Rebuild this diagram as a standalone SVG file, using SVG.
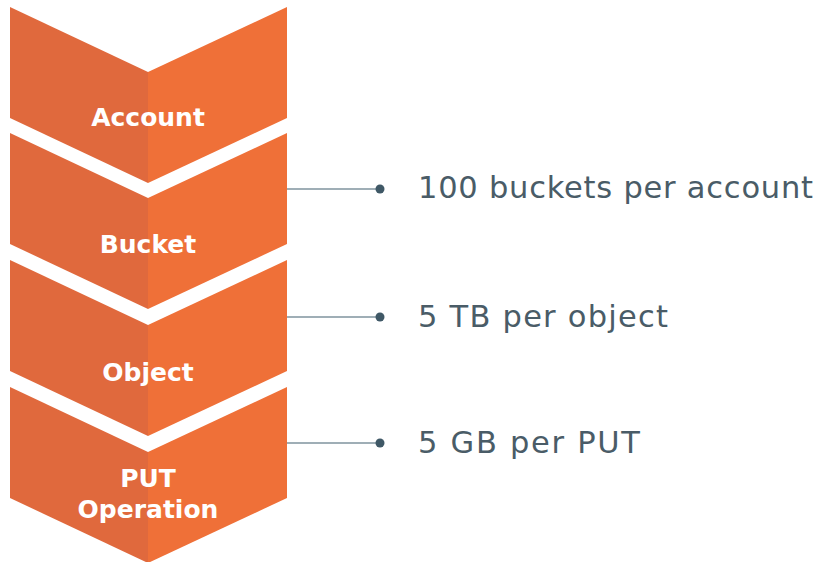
<svg xmlns="http://www.w3.org/2000/svg" width="821" height="562" viewBox="0 0 821 562">
  <style>
    .lf { fill: #E0693D; }
    .rt { fill: #EF7038; }
    .lbl { font-family: "DejaVu Sans", "Liberation Sans", sans-serif; font-weight: bold; font-size: 25px; fill: #FFFFFF; text-anchor: middle; }
    .note { font-family: "DejaVu Sans", "Liberation Sans", sans-serif; font-size: 30.5px; fill: #4A5C67; }
    .lead { stroke: #7F939E; stroke-width: 1.5; fill: none; }
    .dot { fill: #3F5866; }
  </style>
  <defs>
    <!-- one chevron: darker left half, lighter right half -->
    <g id="chev">
      <polygon class="lf" points="10,0 148,65 148,176 10,111"/>
      <polygon class="rt" points="148,65 287,0 287,111 148,176"/>
    </g>
  </defs>

  <rect width="821" height="562" fill="#FFFFFF"/>

  <g id="account">
    <use href="#chev" transform="translate(0,7)"/>
    <text class="lbl" x="148" y="126">Account</text>
  </g>
  <g id="bucket">
    <use href="#chev" transform="translate(0,133)"/>
    <text class="lbl" x="148" y="253">Bucket</text>
  </g>
  <g id="object">
    <use href="#chev" transform="translate(0,260)"/>
    <text class="lbl" x="148" y="381">Object</text>
  </g>
  <g id="put-operation">
    <use href="#chev" transform="translate(0,387)"/>
    <text class="lbl" x="148" y="487">PUT</text>
    <text class="lbl" x="148" y="518">Operation</text>
  </g>

  <g id="connectors">
    <line class="lead" x1="287" y1="189" x2="380" y2="189"/>
    <circle class="dot" cx="380" cy="189" r="4.5"/>
    <line class="lead" x1="287" y1="317" x2="380" y2="317"/>
    <circle class="dot" cx="380" cy="317" r="4.5"/>
    <line class="lead" x1="287" y1="443" x2="380" y2="443"/>
    <circle class="dot" cx="380" cy="443" r="4.5"/>
  </g>

  <g id="limits">
    <text class="note" x="418" y="198" textLength="395" lengthAdjust="spacing">100 buckets per account</text>
    <text class="note" x="418" y="327" textLength="250" lengthAdjust="spacing">5 TB per object</text>
    <text class="note" x="418" y="453" textLength="222" lengthAdjust="spacing">5 GB per PUT</text>
  </g>
</svg>
